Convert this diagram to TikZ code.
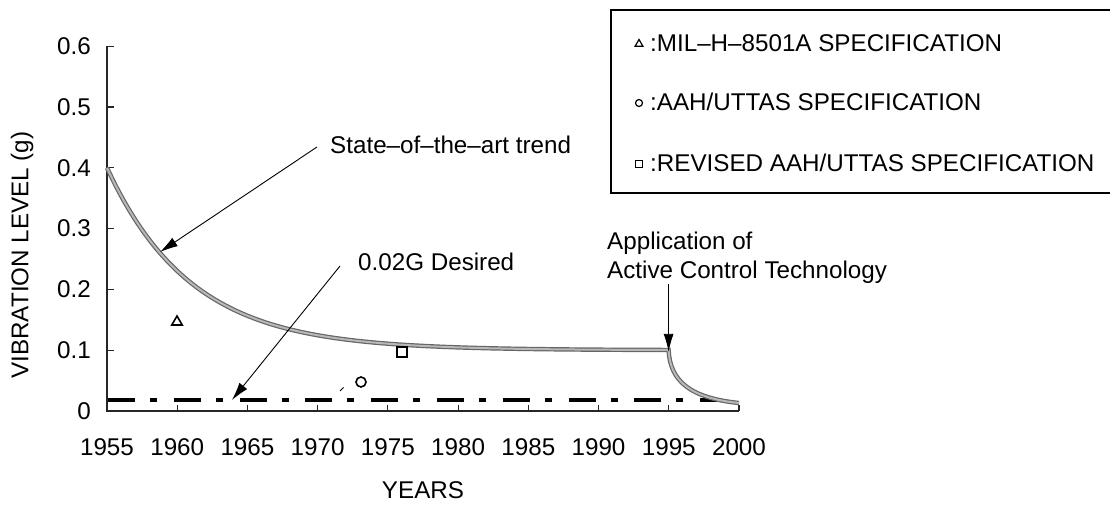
\documentclass[tikz,border=0pt]{standalone}
\usepackage{fontspec}
\setmainfont{Liberation Sans}
\usetikzlibrary{arrows.meta,shapes.geometric}
\begin{document}
\begin{tikzpicture}[x=1pt,y=-1pt,
  lbl/.style={font=\fontsize{24.2}{26}\selectfont, inner sep=0pt},
  axisline/.style={draw=black!85, line width=1.1pt},
  trend/.style={draw=black!60, line width=1.2pt, double=black!28, double distance=2pt},
  desired/.style={draw=black, line width=4pt, dash pattern=on 27pt off 15pt on 7pt off 16.8pt},
  pointer/.style={draw=black, line width=0.9pt, -{Latex[length=18pt,width=10pt]}},
  mk/.style={draw=black, line width=1.6pt, fill=white},
  legbox/.style={draw=black, line width=1.2pt}
]
\useasboundingbox (0,0) rectangle (1110,505);

% axes
\coordinate (O) at (107,411);
\coordinate (Ytop) at (107,46);
\coordinate (Xend) at (739,411);
\draw[axisline] (Ytop) -- (O) -- (Xend);
\foreach \v in {1,...,6} {
  \draw[axisline] (107,{411-60.8*\v}) -- ++(7,0);
  \node[lbl, anchor=east] (yl\v) at (91,{411-60.8*\v}) {0.\v};
}
\node[lbl, anchor=east] (yl0) at (91,411) {0};
\foreach \i/\yr in {0/1955,1/1960,2/1965,3/1970,4/1975,5/1980,6/1985,7/1990,8/1995,9/2000} {
  \draw[axisline] ({107+70.22*\i},411) -- ++(0,-6);
  \node[lbl] (xl\i) at ({107+70.22*\i},447) {\yr};
}
\node[lbl] (xtitle) at (423,490) {YEARS};
\node[lbl, rotate=90] (ytitle) at (22,255) {VIBRATION LEVEL (g)};

% desired level
\coordinate (d0) at (108,400);
\coordinate (d1) at (720,400);
\draw[desired] (d0) -- (d1);

% trend curve
\coordinate (c95) at (668.6,351.8);
\coordinate (c00) at (739,403);
\draw[trend] plot[domain=0:40, samples=80, smooth] ({107+\x*14.04},{411-608*(0.1+0.3*exp(-\x/6))})
  .. controls (670,381) and (690,398) .. (c00);

% data points
\node[mk, regular polygon, regular polygon sides=3, minimum size=12pt, inner sep=0pt] (p1960) at (177,322) {};
\node[mk, circle, minimum size=10pt, inner sep=0pt] (p1973) at (361,382) {};
\node[mk, rectangle, minimum size=10pt, inner sep=0pt] (p1976) at (402,352) {};
\draw[black, line width=0.8pt] (340,391) -- (343.5,387.5);

% annotations
\node[lbl, anchor=west] (sota) at (330,145) {State–of–the–art trend};
\coordinate (sotaS) at (317,147);
\coordinate (sotaT) at (160,252);
\draw[pointer] (sotaS) -- (sotaT);

\node[lbl, anchor=west] (des) at (358,262) {0.02G Desired};
\coordinate (desS) at (340,266);
\coordinate (desT) at (232,400);
\draw[pointer] (desS) -- (desT);

\node[lbl, anchor=west] (app1) at (607,243) {Application of};
\node[lbl, anchor=west] (app2) at (607,272) {Active Control Technology};
\coordinate (appS) at (668.6,284);
\draw[pointer] (appS) -- (c95);

% legend
\draw[legbox] (611,10) rectangle (1116,193);
\node[mk, line width=1.2pt, regular polygon, regular polygon sides=3, minimum size=9pt, inner sep=0pt] (l1m) at (639,44) {};
\node[mk, line width=1.2pt, circle, minimum size=7pt, inner sep=0pt] (l2m) at (639,103) {};
\node[mk, line width=1.2pt, rectangle, minimum size=7pt, inner sep=0pt] (l3m) at (639,164) {};
\node[lbl, anchor=west] (l1) at (650,43) {:MIL–H–8501A SPECIFICATION};
\node[lbl, anchor=west] (l2) at (650,102) {:AAH/UTTAS SPECIFICATION};
\node[lbl, anchor=west] (l3) at (650,163) {:REVISED AAH/UTTAS SPECIFICATION};
\end{tikzpicture}
\end{document}
